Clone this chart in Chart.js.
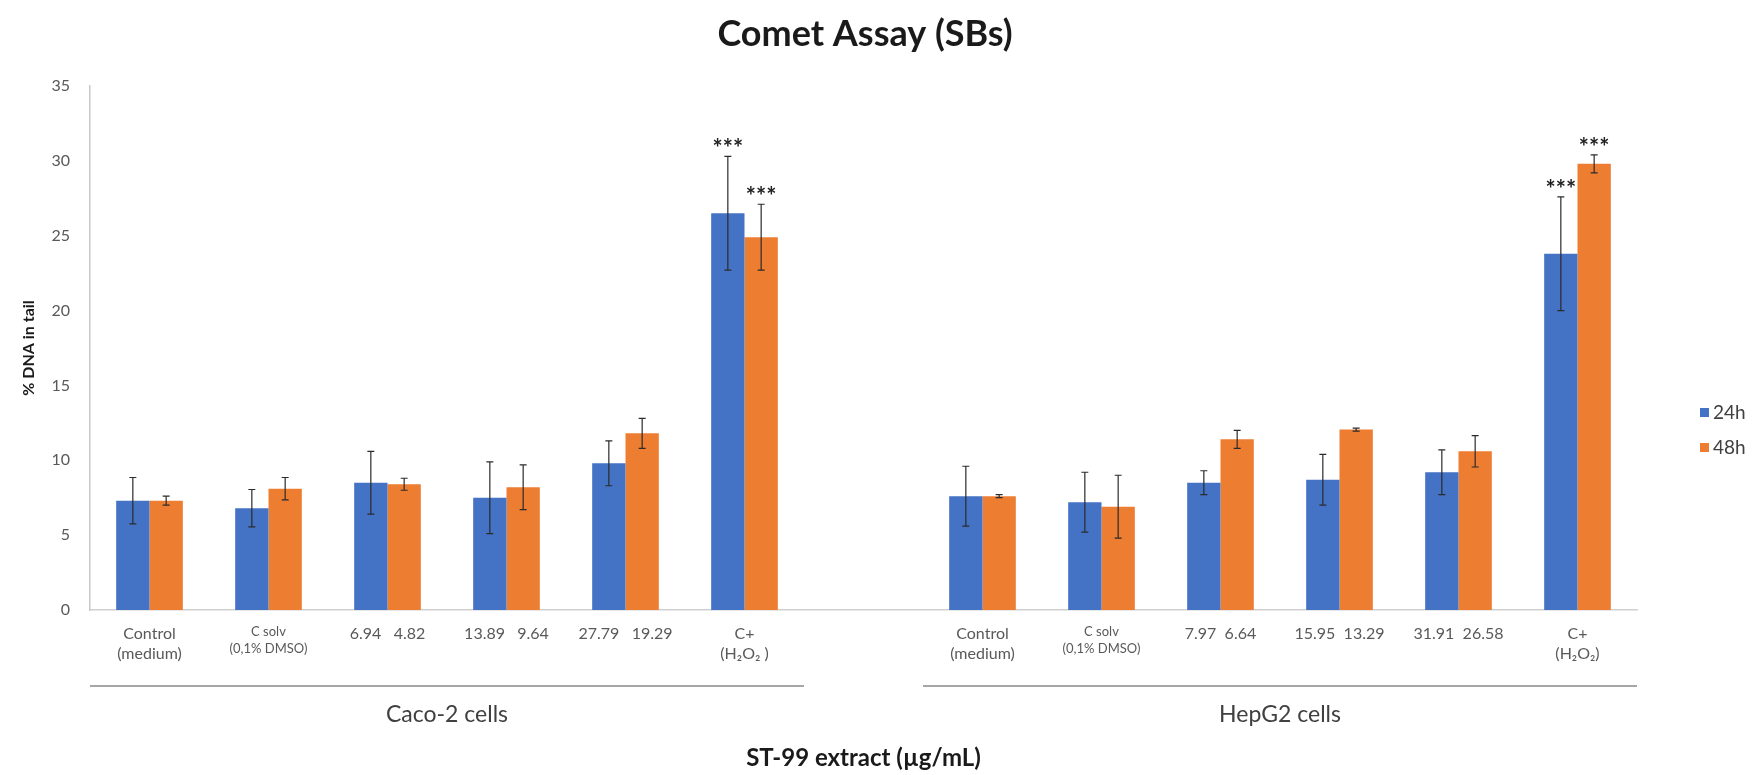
<!DOCTYPE html>
<html>
<head>
<meta charset="utf-8">
<script src="https://cdn.jsdelivr.net/npm/chart.js@4.4.1/dist/chart.umd.min.js"></script>
<style>
  html, body { margin: 0; padding: 0; background: #fff; }
  #wrap { width: 1759px; height: 775px; position: relative; }
</style>
</head>
<body>
<div id="wrap"><canvas id="comet"></canvas></div>
<script>
// categories (index 6 is the empty slot between the two cell lines)
const labels = [
    ['Control', '(medium)'], ['C solv', '(0,1% DMSO)'], '6.94   4.82', '13.89   9.64', '27.79   19.29', ['C+', '(H₂O₂ )'],
    '',
    ['Control', '(medium)'], ['C solv', '(0,1% DMSO)'], '7.97  6.64', '15.95  13.29', '31.91  26.58', ['C+', '(H₂O₂)']
];
const h24 = [7.3, 6.8, 8.5, 7.5, 9.8, 26.5, null, 7.6, 7.2, 8.5, 8.7, 9.2, 23.8];
const h48 = [7.3, 8.1, 8.4, 8.2, 11.8, 24.9, null, 7.6, 6.9, 11.4, 12.05, 10.6, 29.8];
const err24 = [1.55, 1.25, 2.1, 2.4, 1.5, 3.8, null, 2.0, 2.0, 0.8, 1.7, 1.5, 3.8];
const err48 = [0.3, 0.75, 0.4, 1.5, 1.0, 2.2, null, 0.1, 2.1, 0.6, 0.1, 1.05, 0.6];
const stars24 = ['', '', '', '', '', '***', '', '', '', '', '', '', '***'];
const stars48 = ['', '', '', '', '', '***', '', '', '', '', '', '', '***'];
const groups = [
    { label: 'Caco-2 cells', from: 0, to: 5 },
    { label: 'HepG2 cells', from: 7, to: 12 }
];
const yTicks = [0, 5, 10, 15, 20, 25, 30, 35];

const FONT = 'Lato, "Open Sans", sans-serif';
const BLUE = '#4472C4';
const ORANGE = '#ED7D31';

// title, error bars, significance stars, group brackets and the legend
const extras = {
    id: 'extras',
    afterDatasetsDraw(chart) {
        const ctx = chart.ctx;
        const x = chart.scales.x;
        const y = chart.scales.y;
        ctx.save();

        ctx.fillStyle = '#1a1a1a';
        ctx.font = 'bold 36px ' + FONT;
        ctx.textAlign = 'center';
        ctx.textBaseline = 'middle';
        ctx.fillText('Comet Assay (SBs)', 865, 34);

        chart.data.datasets.forEach((ds, di) => {
            const meta = chart.getDatasetMeta(di);
            meta.data.forEach((bar, i) => {
                const v = ds.data[i];
                if (v == null) return;
                const e = ds.errors[i];
                const top = y.getPixelForValue(v + e);
                const bot = y.getPixelForValue(v - e);
                ctx.strokeStyle = '#2b2b2b';
                ctx.lineWidth = 1.2;
                ctx.beginPath();
                ctx.moveTo(bar.x, top); ctx.lineTo(bar.x, bot);
                ctx.moveTo(bar.x - 3.5, top); ctx.lineTo(bar.x + 3.5, top);
                ctx.moveTo(bar.x - 3.5, bot); ctx.lineTo(bar.x + 3.5, bot);
                ctx.stroke();
                if (ds.stars[i]) {
                    ctx.fillStyle = '#222';
                    ctx.font = 'bold 24px ' + FONT;
                    ctx.textAlign = 'center';
                    ctx.textBaseline = 'alphabetic';
                    ctx.fillText(ds.stars[i], bar.x, top + 1);
                }
            });
        });

        // cell line brackets under the category labels
        const half = (x.getPixelForValue(1) - x.getPixelForValue(0)) / 2;
        groups.forEach(g => {
            const x0 = x.getPixelForValue(g.from) - half;
            const x1 = x.getPixelForValue(g.to) + half;
            ctx.strokeStyle = '#a6a6a6';
            ctx.lineWidth = 2;
            ctx.beginPath();
            ctx.moveTo(x0, y.bottom + 76); ctx.lineTo(x1, y.bottom + 76);
            ctx.stroke();
            ctx.fillStyle = '#404040';
            ctx.font = '23px ' + FONT;
            ctx.textAlign = 'center';
            ctx.textBaseline = 'middle';
            ctx.fillText(g.label, (x0 + x1) / 2, y.bottom + 105);
        });

        // legend
        chart.data.datasets.forEach((ds, di) => {
            const ly = 413 + di * 35;
            ctx.fillStyle = ds.backgroundColor;
            ctx.fillRect(1700, ly - 5, 9, 9);
            ctx.fillStyle = '#404040';
            ctx.font = '19px ' + FONT;
            ctx.textAlign = 'left';
            ctx.textBaseline = 'middle';
            ctx.fillText(ds.label, 1713, ly);
        });
        ctx.restore();
    }
};

new Chart(document.getElementById('comet'), {
    type: 'bar',
    data: {
        labels: labels,
        datasets: [
            { label: '24h', data: h24, errors: err24, stars: stars24, backgroundColor: BLUE },
            { label: '48h', data: h48, errors: err48, stars: stars48, backgroundColor: ORANGE }
        ]
    },
    options: {
        responsive: true,
        maintainAspectRatio: false,
        animation: false,
        categoryPercentage: 0.56,
        barPercentage: 1.0,
        layout: { padding: { left: 19, right: 122, top: 86, bottom: 2 } },
        plugins: {
            legend: { display: false },
            tooltip: { enabled: false },
            title: { display: false }
        },
        scales: {
            x: {
                grid: { display: false },
                border: { display: true, color: '#d0d0d0', width: 1.5 },
                ticks: {
                    color: '#595959',
                    maxRotation: 0,
                    autoSkip: false,
                    padding: 6,
                    font: ctx => ({ family: FONT, size: (ctx.index === 1 || ctx.index === 8) ? 13 : 16, lineHeight: 1.25 })
                },
                title: {
                    display: true,
                    text: 'ST-99 extract (µg/mL)',
                    color: '#1a1a1a',
                    font: { family: FONT, size: 24, weight: 'bold' },
                    padding: { top: 0, bottom: 0 }
                },
                afterFit(scale) { scale.height = 163; }
            },
            y: {
                min: 0,
                max: 35,
                afterBuildTicks(scale) { scale.ticks = yTicks.map(v => ({ value: v })); },
                grid: { display: false },
                border: { display: true, color: '#c8c8c8', width: 1.5 },
                ticks: {
                    color: '#595959',
                    padding: 12,
                    font: { family: FONT, size: 16 }
                },
                title: {
                    display: true,
                    text: '% DNA in tail',
                    color: '#1a1a1a',
                    font: { family: FONT, size: 16, weight: 'bold' },
                    padding: 0
                },
                afterFit(scale) { scale.width = 71; }
            }
        }
    },
    plugins: [extras]
});
</script>
</body>
</html>
